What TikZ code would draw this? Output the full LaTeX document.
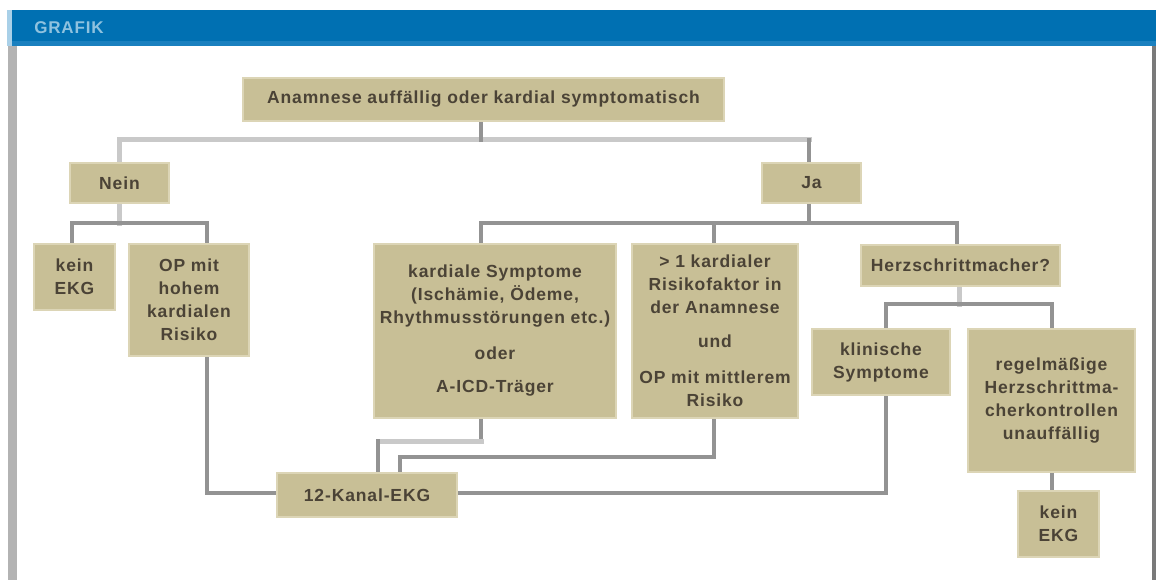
\documentclass[tikz,border=0pt]{standalone}
\usepackage{fontspec}
\setmainfont{Liberation Sans}
\newfontfamily\boxfont[LetterSpace=5]{Liberation Sans}
\usetikzlibrary{calc}
\pgfdeclarelayer{bg}
\pgfdeclarelayer{frame}
\pgfsetlayers{frame,bg,main}
\definecolor{hdrblue}{HTML}{0070B2}
\definecolor{hdrstrip}{HTML}{1A80BF}
\definecolor{hdredge}{HTML}{A9D0E8}
\definecolor{hdrtxt}{HTML}{8FC2DF}
\definecolor{boxfill}{HTML}{C8BF96}
\definecolor{boxedge}{HTML}{DCD5B6}
\definecolor{txt}{HTML}{4B4336}
\definecolor{lnd}{HTML}{939393}
\definecolor{lnl}{HTML}{C9C9C9}
\definecolor{bordl}{HTML}{B3B3B3}
\definecolor{bordr}{HTML}{7A7A7A}
\begin{document}
\begin{tikzpicture}[x=1pt,y=-1pt,
  box/.style={draw=boxedge, line width=2pt, fill=boxfill, text=txt,
    font=\boxfont\bfseries\fontsize{17.5}{23}\selectfont, align=center, inner sep=0pt},
  conn/.style={draw=lnd, line width=4pt, line cap=rect},
  connl/.style={draw=lnl, line width=5pt, line cap=rect}]
\useasboundingbox (0,0) rectangle (1156,580);
% frame
\begin{pgfonlayer}{frame}
\fill[white] (0,0) rectangle (1156,580);
\fill[hdrblue] (7,10) rectangle (1156,46);
\fill[hdrstrip] (12,41) rectangle (1156,46);
\fill[hdredge] (7,10) rectangle (12,46);
\fill[bordl] (8,46) rectangle (17,580);
\fill[bordr] (1152,46) rectangle (1156,580);
\end{pgfonlayer}
\node[text=hdrtxt, font=\boxfont\bfseries\fontsize{17}{18}\selectfont, anchor=center, inner sep=0pt] (hdr) at (69,28) {GRAFIK};
% boxes
\node[box, minimum width=481, minimum height=43] (top) at (483.5,99.5) {Anamnese auffällig oder kardial symptomatisch};
\node[box, minimum width=99, minimum height=40] (nein) at (119.5,183) {Nein};
\node[box, minimum width=99, minimum height=40] (ja) at (811.5,183) {Ja};
\node[box, minimum width=81, minimum height=66] (keina) at (74.5,277) {kein\\EKG};
\node[box, minimum width=120, minimum height=112] (ophoch) at (189,300) {OP mit\\hohem\\kardialen\\Risiko};
\node[box, minimum width=242, minimum height=174] (kard) at (495,331) {kardiale Symptome\\(Ischämie, Ödeme,\\Rhythmusstörungen etc.)\\[13pt]oder\\[10pt]A-ICD-Träger};
\node[box, minimum width=166, minimum height=174] (risk) at (715,331) {> 1 kardialer\\Risikofaktor in\\der Anamnese\\[11pt]und\\[13pt]OP mit mittlerem\\Risiko};
\node[box, minimum width=199, minimum height=41] (herz) at (960.5,265.5) {Herzschrittmacher?};
\node[box, minimum width=138, minimum height=66] (klin) at (881,362) {klinische\\Symptome};
\node[box, minimum width=167, minimum height=143] (regel) at (1051.5,400.5) {regelmäßige\\Herzschrittma-\\cherkontrollen\\unauffällig};
\node[box, minimum width=81, minimum height=66] (keinb) at (1058.5,524) {kein\\EKG};
\node[box, minimum width=180, minimum height=44] (ekg) at (367,495) {12-Kanal-EKG};
% connectors
\coordinate (hA) at (481,140);
\coordinate (hN) at (119,140);
\coordinate (hJ) at (809,140);
\coordinate (nb) at (119,223);
\coordinate (nl) at (72,223);
\coordinate (nr) at (207,223);
\coordinate (jb) at (809,223);
\coordinate (j1) at (481,223);
\coordinate (j2) at (714,223);
\coordinate (j3) at (957,223);
\coordinate (hb) at (959,304);
\coordinate (h1) at (886,304);
\coordinate (h2) at (1052,304);
\coordinate (o1) at (207,493);
\coordinate (k1) at (481,441);
\coordinate (k2) at (378,441);
\coordinate (r1) at (714,457);
\coordinate (r2) at (400,457);
\coordinate (c1) at (886,493);
\begin{pgfonlayer}{bg}
\draw[connl] (hN) -- (hJ);
\draw[conn] (top.south -| hA) -- (hA);
\draw[connl] (hN) -- (nein.north -| hN);
\draw[conn] (hJ) -- (ja.north -| hJ);
\draw[connl] (nein.south -| nb) -- (nb);
\draw[conn] (keina.north -| nl) -- (nl) -- (nr) -- (ophoch.north -| nr);
\draw[conn] (ja.south -| jb) -- (jb);
\draw[conn] (kard.north -| j1) -- (j1) -- (j3) -- (herz.north -| j3);
\draw[conn] (j2) -- (risk.north -| j2);
\draw[connl] (herz.south -| hb) -- (hb);
\draw[conn] (klin.north -| h1) -- (h1) -- (h2) -- (regel.north -| h2);
\draw[conn] (regel.south -| h2) -- (keinb.north -| h2);
\draw[conn] (ophoch.south -| o1) -- (o1) -- (ekg.west |- o1);
\draw[conn] (kard.south -| k1) -- (k1);
\draw[connl] (k1) -- (k2);
\draw[conn] (k2) -- (ekg.north -| k2);
\draw[conn] (risk.south -| r1) -- (r1) -- (r2) -- (ekg.north -| r2);
\draw[conn] (klin.south -| c1) -- (c1) -- (ekg.east |- c1);
\end{pgfonlayer}
\end{tikzpicture}
\end{document}
